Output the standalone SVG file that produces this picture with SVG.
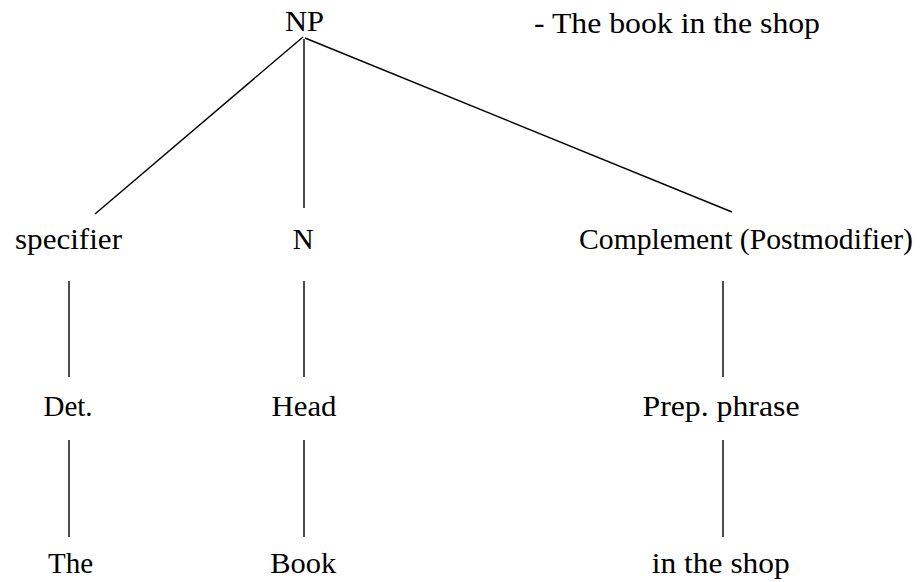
<svg xmlns="http://www.w3.org/2000/svg" width="920" height="582" viewBox="0 0 920 582">
  <style>
    .lbl { font-family: "Liberation Serif", "Times New Roman", serif; font-size: 29px; fill: #000; text-anchor: middle; }
    .note { text-anchor: start; font-size: 30px; }
    .edge { stroke: #000; stroke-width: 1.4; fill: none; }
  </style>
  <rect width="920" height="582" fill="#fff"/>

  <!-- tree branches -->
  <g id="connectors">
    <line class="edge" x1="303" y1="37" x2="95" y2="214"/>
    <line class="edge" x1="304" y1="39" x2="304" y2="208"/>
    <line class="edge" x1="305" y1="38" x2="732" y2="212"/>
    <line class="edge" x1="69" y1="281" x2="69" y2="377"/>
    <line class="edge" x1="69" y1="440" x2="69" y2="537"/>
    <line class="edge" x1="304" y1="281" x2="304" y2="377"/>
    <line class="edge" x1="304" y1="440" x2="304" y2="537"/>
    <line class="edge" x1="723" y1="281" x2="723" y2="377"/>
    <line class="edge" x1="723" y1="440" x2="723" y2="537"/>
  </g>

  <!-- root and caption -->
  <g id="np"><text class="lbl" x="304.5" y="31" textLength="39" lengthAdjust="spacingAndGlyphs">NP</text></g>
  <g id="caption"><text class="lbl note" x="534" y="33" textLength="286" lengthAdjust="spacingAndGlyphs">- The book in the shop</text></g>

  <!-- functions -->
  <g id="specifier"><text class="lbl" x="68.5" y="249" textLength="107" lengthAdjust="spacingAndGlyphs">specifier</text></g>
  <g id="n"><text class="lbl" x="303.3" y="249">N</text></g>
  <g id="complement"><text class="lbl" x="746" y="249" textLength="334" lengthAdjust="spacingAndGlyphs">Complement (Postmodifier)</text></g>

  <!-- categories -->
  <g id="det"><text class="lbl" x="68" y="416">Det.</text></g>
  <g id="head"><text class="lbl" x="304" y="416" textLength="65" lengthAdjust="spacingAndGlyphs">Head</text></g>
  <g id="prep"><text class="lbl" x="721" y="416" textLength="157" lengthAdjust="spacingAndGlyphs">Prep. phrase</text></g>

  <!-- words -->
  <g id="the"><text class="lbl" x="70.5" y="573">The</text></g>
  <g id="book"><text class="lbl" x="303.3" y="573" textLength="66" lengthAdjust="spacingAndGlyphs">Book</text></g>
  <g id="shop"><text class="lbl" x="720.8" y="573" textLength="138" lengthAdjust="spacingAndGlyphs">in the shop</text></g>
</svg>
